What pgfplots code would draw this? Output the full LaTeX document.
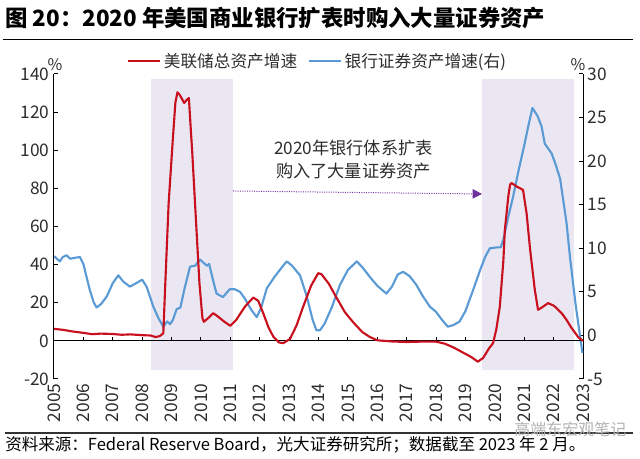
\documentclass[border=0pt]{standalone}
\usepackage{fontspec}
\setmainfont{Noto Sans CJK SC}
\usepackage{pgfplots}
\pgfplotsset{compat=1.18}
\usetikzlibrary{arrows.meta}

\definecolor{fedred}{RGB}{200,16,30}
\definecolor{secblue}{RGB}{91,155,213}
\definecolor{bandcol}{RGB}{235,231,242}
\definecolor{arrowpurple}{RGB}{112,48,160}
\definecolor{txt}{RGB}{45,45,45}

\pgfplotsset{
  base/.style={
    scale only axis, width=396.75pt, height=228.75pt,
    at={(40.5pt,60pt)}, anchor=south west,
    xmin=2005, xmax=2023, clip=false,
    tick align=inside, major tick length=3pt,
    every tick/.style={black, line width=0.75pt},
    ticklabel style={font=\fontsize{13pt}{15pt}\selectfont, text=txt},
    /pgf/number format/assume math mode=true,
    /pgf/number format/1000 sep={},
  }
}

\begin{document}
\begin{tikzpicture}
\path[use as bounding box] (0,0) rectangle (480pt,344.25pt);

% title and rules
\node[anchor=west, inner sep=0pt, font=\fontsize{16.8pt}{20pt}\selectfont\bfseries] at (3.75pt,330.75pt)
  {图 20：2020 年美国商业银行扩表时购入大量证券资产};
\draw[line width=1.1pt] (2.25pt,314.8pt) -- (474.75pt,314.8pt);
\draw[line width=0.8pt, black!80] (3.75pt,19.5pt) -- (474.75pt,19.5pt);
\node[anchor=west, inner sep=0pt, font=\fontsize{12.4pt}{14pt}\selectfont] at (3.75pt,10.5pt)
  {资料来源：Federal Reserve Board，光大证券研究所；数据截至 2023 年 2 月。};
\node[anchor=east, inner sep=0pt, text=black!30, font=\fontsize{12pt}{14pt}\selectfont] at (470pt,22.5pt)
  {高端东宏观笔记};

% shaded periods
\fill[bandcol] (113pt,66.75pt) rectangle (174.5pt,285pt);
\fill[bandcol] (361.3pt,66.75pt) rectangle (430.5pt,285pt);

% right axis: bank securities growth
\begin{axis}[base,
  axis y line*=right, axis x line=none,
  ymin=-5, ymax=30, ytick={-5,0,...,30},
  y axis line style={black, line width=0.75pt},
]
\addplot[secblue, line width=1.6pt, line join=round] coordinates {
(2005.0,9.1)(2005.1,8.8)(2005.2,8.5)(2005.3,9.0)(2005.43,9.2)(2005.55,8.8)
(2005.7,8.9)(2005.88,9.0)(2006.0,8.2)(2006.1,6.8)(2006.22,5.2)(2006.35,3.8)
(2006.45,3.2)(2006.6,3.6)(2006.8,4.5)(2007.0,6.0)(2007.19,6.9)(2007.35,6.2)
(2007.58,5.6)(2007.8,6.0)(2008.0,6.4)(2008.15,5.6)(2008.38,3.3)(2008.55,2.0)
(2008.72,1.0)(2008.85,1.6)(2008.95,1.3)(2009.05,1.8)(2009.17,3.0)(2009.3,3.2)
(2009.45,5.5)(2009.63,7.9)(2009.8,8.0)(2009.97,8.7)(2010.1,8.3)(2010.2,8.0)
(2010.28,8.2)(2010.4,6.5)(2010.53,4.8)(2010.75,4.4)(2010.98,5.3)(2011.15,5.3)
(2011.33,5.0)(2011.5,4.2)(2011.7,3.0)(2011.9,2.1)(2012.05,3.2)(2012.24,5.4)
(2012.5,6.7)(2012.75,7.8)(2012.92,8.5)(2013.1,8.0)(2013.37,6.9)(2013.6,4.5)
(2013.8,1.8)(2013.93,0.6)(2014.05,0.6)(2014.2,1.3)(2014.45,3.2)(2014.73,5.8)
(2015.0,7.5)(2015.3,8.5)(2015.5,7.8)(2015.75,6.7)(2016.0,5.7)(2016.31,4.8)
(2016.5,5.6)(2016.7,7.0)(2016.88,7.3)(2017.1,6.8)(2017.33,5.8)(2017.55,4.5)
(2017.79,3.3)(2018.0,2.7)(2018.2,1.8)(2018.4,1.0)(2018.6,1.2)(2018.8,1.6)
(2019.0,2.8)(2019.26,5.2)(2019.5,7.5)(2019.67,9.0)(2019.83,10.0)(2020.06,10.1)
(2020.2,10.1)(2020.29,11.0)(2020.45,13.5)(2020.62,15.9)(2020.8,18.8)(2021.0,21.8)
(2021.15,24.2)(2021.28,26.1)(2021.45,25.2)(2021.59,24.0)(2021.7,22.0)(2021.93,20.9)
(2022.05,19.8)(2022.22,18.0)(2022.35,15.0)(2022.44,12.9)(2022.56,8.9)(2022.75,3.5)
(2022.98,-2.0)
};
\node[font=\fontsize{12pt}{14pt}\selectfont, text=txt] at (rel axis cs:1,1) [xshift=-3.75pt, yshift=6.75pt] {\%};
\end{axis}

% left axis: Fed total assets growth
\begin{axis}[base,
  axis y line*=left, axis x line*=bottom,
  x axis line style={draw=none},
  xtick={2005,2006,...,2023}, xtick style={draw=none},
  xticklabel style={rotate=90, anchor=east},
  ymin=-20, ymax=140, ytick={-20,0,...,140},
  y axis line style={black, line width=0.75pt},
  legend columns=2,
  legend style={draw=none, fill=none, at={(0.130,1.0426)}, anchor=west,
    font=\fontsize{12.5pt}{14pt}\selectfont, text=txt,
    /tikz/every even column/.append style={column sep=6pt}},
  legend image code/.code={\draw[#1] (0pt,0pt) -- (24pt,0pt);},
]
\draw[black, line width=0.9pt] (axis cs:2005,0) -- (axis cs:2023,0);
\pgfplotsinvokeforeach{2006,2007,...,2022}{
  \draw[black, line width=0.75pt] (axis cs:#1,0) -- ++(0pt,3pt);
}
\addplot[fedred, line width=1.6pt, line join=round] coordinates {
(2005.0,6.3)(2005.3,5.8)(2005.6,5.0)(2006.0,4.2)(2006.3,3.5)(2006.6,3.8)
(2007.0,3.6)(2007.3,3.2)(2007.6,3.4)(2008.0,3.0)(2008.3,2.8)(2008.45,2.0)
(2008.6,2.5)(2008.72,4.0)(2008.8,35)(2008.9,72)(2009.04,105)(2009.13,125)
(2009.2,130.4)(2009.28,129)(2009.43,124.8)(2009.52,126.5)(2009.59,127.4)
(2009.65,112)(2009.7,100)(2009.86,55)(2009.95,30)(2010.05,12)(2010.1,10)
(2010.25,12)(2010.42,14.5)(2010.6,12.5)(2010.8,10)(2011.0,7.9)(2011.2,11)
(2011.5,18)(2011.78,22.7)(2011.95,21)(2012.12,14.5)(2012.3,7)(2012.46,2.3)
(2012.65,-0.8)(2012.8,-1.2)(2013.03,1)(2013.25,8)(2013.48,18)(2013.75,29)
(2013.99,35.5)(2014.1,35)(2014.35,30)(2014.6,23)(2014.9,15)(2015.2,9.4)
(2015.5,4.5)(2015.75,2)(2016.0,0.3)(2016.5,-0.3)(2017.0,-0.6)(2017.5,-0.4)
(2018.0,-0.4)(2018.3,-1.5)(2018.6,-3.5)(2018.9,-6)(2019.2,-8.5)(2019.42,-10.9)
(2019.6,-9)(2019.8,-4)(2019.94,-1.2)(2020.05,6)(2020.17,18)(2020.29,42)
(2020.34,58)(2020.46,76)(2020.52,82)(2020.57,82.8)(2020.74,81)(2020.96,79.2)
(2021.02,73)(2021.08,67)(2021.2,48)(2021.36,26.8)(2021.47,16.3)(2021.6,17.5)
(2021.81,19.8)(2022.0,18.5)(2022.1,17.2)(2022.3,14)(2022.44,11)(2022.6,7)
(2022.84,1.9)(2023.0,0)
};
\addlegendentry{美联储总资产增速}
\addlegendimage{secblue, line width=1.6pt}
\addlegendentry{银行证券资产增速(右)}
\node[font=\fontsize{12pt}{14pt}\selectfont, text=txt] at (rel axis cs:0,1) [xshift=0.75pt, yshift=6.75pt] {\%};
\end{axis}

% annotation
\node[align=center, font=\fontsize{12.9pt}{17.25pt}\selectfont, text=txt] at (265.1pt,224.6pt)
  {2020年银行体系扩表\\购入了大量证券资产};
\draw[arrowpurple, line width=0.75pt, densely dotted, -{Triangle[length=7pt,width=7pt]}]
  (174.75pt,201pt) -- (361.5pt,198.75pt);
\end{tikzpicture}
\end{document}
